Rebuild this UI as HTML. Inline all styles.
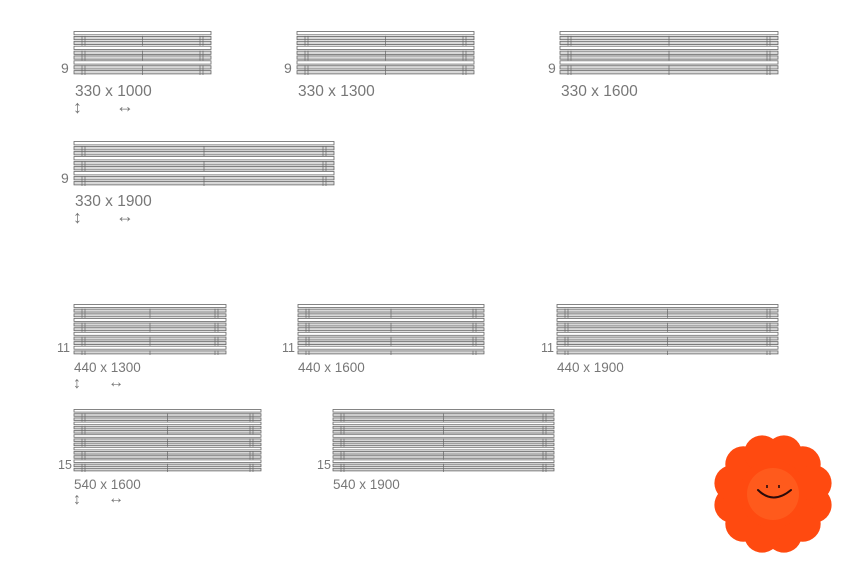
<!DOCTYPE html>
<html><head><meta charset="utf-8"><style>
body{margin:0;background:#fff;width:864px;height:579px;overflow:hidden}
svg text{font-family:"Liberation Sans",sans-serif;fill:#777}
</style></head><body>
<svg id="s" width="864" height="579" xmlns="http://www.w3.org/2000/svg">
<g id="rads"></g>
<text x="75" y="96" font-size="15.5">330 x 1000</text>
<text x="298" y="96" font-size="15.5">330 x 1300</text>
<text x="561" y="96" font-size="15.5">330 x 1600</text>
<text x="75" y="206" font-size="15.5">330 x 1900</text>
<text x="74" y="372" font-size="13.5">440 x 1300</text>
<text x="298" y="372" font-size="13.5">440 x 1600</text>
<text x="557" y="372" font-size="13.5">440 x 1900</text>
<text x="74" y="489" font-size="13.5">540 x 1600</text>
<text x="333" y="489" font-size="13.5">540 x 1900</text>
<text x="61" y="73" font-size="14">9</text>
<text x="284" y="73" font-size="14">9</text>
<text x="548" y="73" font-size="14">9</text>
<text x="61" y="183" font-size="14">9</text>
<text x="57" y="352" font-size="12.5">11</text>
<text x="282" y="352" font-size="12.5">11</text>
<text x="541" y="352" font-size="12.5">11</text>
<text x="58" y="469" font-size="12.5">15</text>
<text x="317" y="469" font-size="12.5">15</text>
<text x="73" y="113" font-size="18">↕</text><text x="116" y="112" font-size="18">↔</text>
<text x="73" y="223" font-size="18">↕</text><text x="116" y="222" font-size="18">↔</text>
<text x="73" y="388" font-size="16">↕</text><text x="108" y="387" font-size="16">↔</text>
<text x="73" y="504" font-size="16">↕</text><text x="108" y="503" font-size="16">↔</text>
<g id="flower"></g>
</svg>
<script>
var R=[[74,211,31,75,9],[297,474,31,75,9],[560,778,31,75,9],[74,334,141,186,9],
[74,226,304,355,11],[298,484,304,355,11],[557,778,304,355,11],
[74,261,409,472,15],[333,554,409,472,15]];
var h='';
R.forEach(function(r){var x0=r[0],x1=r[1],y0=r[2],y1=r[3],n=r[4];var p=(y1-y0)/n;
for(var i=0;i<n;i++){var y=y0+i*p;var g=(i%3!=0);
h+='<rect x="'+x0+'" y="'+(y+0.5).toFixed(1)+'" width="'+(x1-x0)+'" height="'+(p-1.6).toFixed(1)+'" fill="'+(g?'#d8d8d8':'#fff')+'" stroke="#666" stroke-width="0.8"/>';
if(g){[x0+8,x0+11,(x0+x1)/2,x1-11,x1-8].forEach(function(x){h+='<line x1="'+x+'" x2="'+x+'" y1="'+y+'" y2="'+(y+p)+'" stroke="#666" stroke-width="0.7"/>';});}}
});
document.getElementById('rads').innerHTML=h;
var f='',cx=773,cy=494;
for(var k=0;k<12;k++){var a=(k*30+15)*Math.PI/180;f+='<circle cx="'+(cx+42*Math.cos(a)).toFixed(1)+'" cy="'+(cy+42*Math.sin(a)).toFixed(1)+'" r="18" fill="#ff4a10"/>';}
f+='<circle cx="'+cx+'" cy="'+cy+'" r="34" fill="#ff4a10"/>';
f+='<circle cx="'+cx+'" cy="'+cy+'" r="26" fill="#ff5a1c"/>';
f+='<path d="M758 490 Q773 505 791 490" fill="none" stroke="#2a0a0a" stroke-width="2" stroke-linecap="round"/>';
f+='<line x1="767" y1="485" x2="767" y2="488" stroke="#2a0a0a" stroke-width="1.6"/><line x1="779" y1="485" x2="779" y2="488" stroke="#2a0a0a" stroke-width="1.6"/>';
document.getElementById('flower').innerHTML=f;
</script>
</body></html>
